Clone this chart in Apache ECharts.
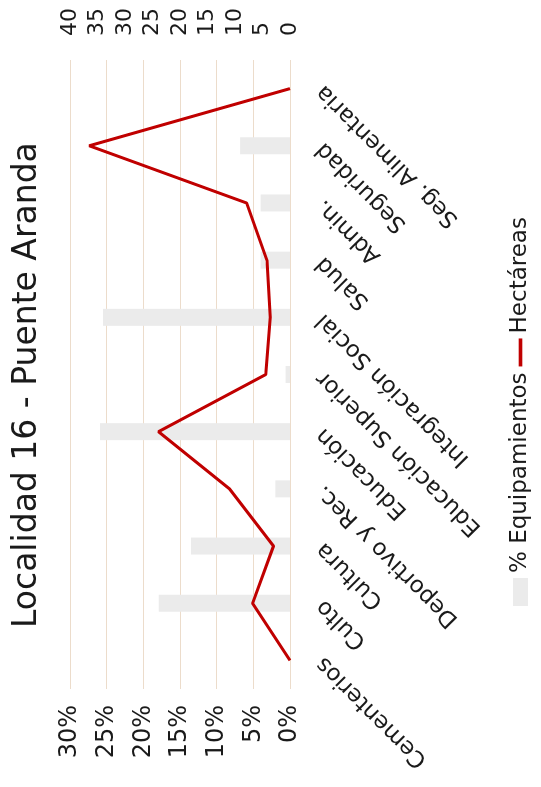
<!DOCTYPE html>
<html>
<head>
<meta charset="utf-8">
<script src="https://cdn.jsdelivr.net/npm/echarts@6/dist/echarts.min.js"></script>
<style>
  html, body { margin: 0; padding: 0; background: #fff; width: 541px; height: 787px; overflow: hidden; }
  #chart { position: absolute; left: 0; top: 0; width: 787px; height: 541px;
           transform-origin: 0 0; transform: translate(0px, 787px) rotate(-90deg); }
</style>
</head>
<body>
<div id="chart"></div>
<script>
const categories = ['Cementerios', 'Culto', 'Cultura', 'Deportivo y Rec.', 'Educación', 'Educación Superior', 'Integración Social', 'Salud', 'Admin.', 'Seguridad', 'Seg. Alimentaria'];
const equipamientos = [0, 17.9, 13.5, 2.0, 25.9, 0.6, 25.5, 4.0, 4.0, 6.8, 0];
const hectareas = [0, 6.8, 3.0, 11.0, 23.9, 4.4, 3.6, 4.2, 7.9, 36.5, 0];
const pctTicks = { min: 0, max: 30, interval: 5 };
const haTicks = { min: 0, max: 40, interval: 5 };

const FONT = 'DejaVu Sans';
const chart = echarts.init(document.getElementById('chart'), null, { renderer: 'canvas' });
chart.setOption({
  backgroundColor: '#ffffff',
  animation: false,
  textStyle: { fontFamily: FONT },
  title: {
    text: 'Localidad 16 - Puente Aranda',
    left: 154, top: 6,
    textStyle: { fontFamily: FONT, fontSize: 33, fontWeight: 'normal', color: '#1a1a1a' }
  },
  legend: {
    bottom: 4, left: 176,
    itemGap: 6, itemWidth: 28, itemHeight: 15,
    symbolKeepAspect: true,
    textStyle: { fontFamily: FONT, fontSize: 23, color: '#1a1a1a' },
    data: [
      { name: '% Equipamientos', icon: 'rect' },
      { name: 'Hectáreas', icon: 'path://M0,0L10,0L10,1.3L0,1.3Z' }
    ]
  },
  grid: { left: 98, right: 60, top: 70, bottom: 251, containLabel: false },
  xAxis: {
    type: 'category', data: categories, boundaryGap: true,
    axisLine: { show: false }, axisTick: { show: false },
    axisLabel: { rotate: 45, fontSize: 23, color: '#1a1a1a', fontFamily: FONT, margin: 30, interval: 0 }
  },
  yAxis: [
    {
      type: 'value', min: pctTicks.min, max: pctTicks.max, interval: pctTicks.interval, position: 'left',
      axisLine: { show: false }, axisTick: { show: false },
      axisLabel: { formatter: '{value}%', fontSize: 24, color: '#1a1a1a', fontFamily: FONT, margin: 16, padding: [0, 0, 6, 0] },
      splitLine: { show: true, lineStyle: { color: '#ecdccb', width: 1.2 } }
    },
    {
      type: 'value', min: haTicks.min, max: haTicks.max, interval: haTicks.interval, position: 'right',
      axisLine: { show: false }, axisTick: { show: false },
      axisLabel: { fontSize: 22, color: '#1a1a1a', fontFamily: FONT, margin: 24, padding: [0, 0, 4, 0] },
      splitLine: { show: false }
    }
  ],
  series: [
    {
      name: '% Equipamientos', type: 'bar', yAxisIndex: 0, data: equipamientos,
      barWidth: 17, itemStyle: { color: '#ebebeb' }
    },
    {
      name: 'Hectáreas', type: 'line', yAxisIndex: 1, data: hectareas,
      symbol: 'none', lineStyle: { color: '#c00000', width: 3 }, itemStyle: { color: '#c00000' }
    }
  ]
});
</script>
</body>
</html>
